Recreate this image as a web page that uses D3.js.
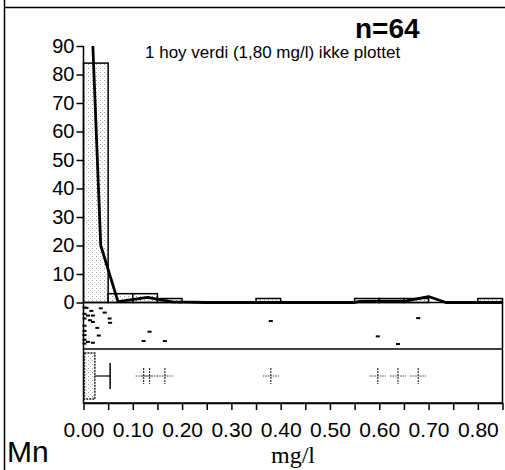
<!DOCTYPE html>
<html lang="no">
<head>
    <meta charset="UTF-8">
    <title>Mn fordeling</title>
    <script type="text/javascript" src="https://cdn.jsdelivr.net/npm/d3@7"></script>
</head>
<style>
    body{ margin:0; background:#fff; }
    .axis path,.axis line{
        fill:none;
        stroke:black;
        stroke-width:1.5px;
    }
    .axis text{
        font-family:"Liberation Sans", Arial, sans-serif;
        fill:black;
    }
</style>
<body>
<script>
    var width = 505;
    var height = 470;

    // histogram, percent per 0.05 mg/l bin
    var binStarts = [0.00, 0.05, 0.10, 0.15, 0.20, 0.25, 0.30, 0.35, 0.40, 0.45, 0.50, 0.55, 0.60, 0.65, 0.70, 0.75, 0.80];
    var binPercent = [84, 3.1, 3.1, 1.4, 0, 0, 0, 1.4, 0, 0, 0, 1.4, 1.4, 1.4, 0, 0, 1.4];

    // frequency line (mg/l, percent)
    var lineX = [0.019, 0.035, 0.07, 0.13, 0.18, 0.25, 0.55, 0.56, 0.655, 0.70, 0.735, 0.85];
    var lineY = [90, 20, 0.3, 1.8, 0.2, 0, 0, 0.4, 0.6, 2.1, 0, 0];

    // single values (mg/l) and their vertical spread inside the strip (0..1)
    var stripValues = [0.006, 0.035, 0.016, 0.043, 0.009, 0.019, 0.053, 0.013, 0.019, 0.054, 0.028, 0.002,
                       0.134, 0.031, 0.009, 0.019, 0.122, 0.165, 0.380, 0.597, 0.638, 0.679,
                       0.002, 0.002, 0.002, 0.002, 0.002, 0.002, 0.002];
    var stripJitter = [0.08, 0.09, 0.15, 0.19, 0.26, 0.26, 0.33, 0.37, 0.41, 0.43, 0.55, 0.62,
                       0.64, 0.73, 0.88, 0.90, 0.86, 0.86, 0.39, 0.75, 0.93, 0.32,
                       0.07, 0.22, 0.33, 0.50, 0.72, 0.83, 0.92];

    // box plot
    var boxStats = [0.002, 0.002, 0.006, 0.023, 0.054];   // min, q1, median, q3, upper whisker
    var outliers = [0.122, 0.134, 0.165, 0.380, 0.597, 0.638, 0.679];

    var yTicks = [0, 10, 20, 30, 40, 50, 60, 70, 80, 90];
    var xTicks = [0.00, 0.05, 0.10, 0.15, 0.20, 0.25, 0.30, 0.35, 0.40, 0.45, 0.50, 0.55, 0.60, 0.65, 0.70, 0.75, 0.80, 0.85];

    var svg = d3.select("body")
            .append("svg")
            .attr("width",width)
            .attr("height",height);

    // stipple fill
    var defs = svg.append("defs");
    var pat = defs.append("pattern")
            .attr("id","stipple")
            .attr("width",4)
            .attr("height",4)
            .attr("patternUnits","userSpaceOnUse");
    pat.append("rect").attr("width",4).attr("height",4).attr("fill","#fff");
    pat.append("rect").attr("width",1).attr("height",1).attr("fill","#9a9a9a");
    pat.append("rect").attr("x",2).attr("y",2).attr("width",1).attr("height",1).attr("fill","#c4c4c4");

    var left = 83.5, right = 502.5;
    var histTop = 46, histBottom = 302.5;
    var stripBottom = 349, boxBottom = 403;

    var xScale = d3.scaleLinear()
            .domain([0, 0.85])
            .range([left, right]);

    var yScale = d3.scaleLinear()
            .domain([0, 90])
            .range([histBottom, histTop]);

    // outer frame
    svg.append("line")
            .attr("x1",4.5).attr("x2",4.5).attr("y1",0).attr("y2",height)
            .attr("stroke","black").attr("stroke-width",1.5);
    svg.append("line")
            .attr("x1",4.5).attr("x2",width).attr("y1",7.5).attr("y2",7.5)
            .attr("stroke","black").attr("stroke-width",1.5);

    // histogram bars
    svg.selectAll(".bar")
            .data(binStarts)
            .enter()
            .append("rect")
            .attr("class","bar")
            .filter(function(d,i){ return binPercent[i] > 0; })
            .attr("x",function(d){ return xScale(d); })
            .attr("width",function(d){ return xScale(d + 0.05) - xScale(d); })
            .attr("y",function(d){ return yScale(binPercent[binStarts.indexOf(d)]); })
            .attr("height",function(d){ return histBottom - yScale(binPercent[binStarts.indexOf(d)]); })
            .attr("fill","url(#stipple)")
            .attr("stroke","black")
            .attr("stroke-width",1.5);

    // frequency line
    var line = d3.line()
            .x(function(d){ return xScale(d[0]); })
            .y(function(d){ return yScale(d[1]); });
    svg.append("path")
            .datum(lineX.map(function(d,i){ return [d, lineY[i]]; }))
            .attr("d",line)
            .attr("fill","none")
            .attr("stroke","black")
            .attr("stroke-width",2.8)
            .attr("stroke-linejoin","round");

    // strip and box panels
    svg.append("rect")
            .attr("x",left).attr("y",histBottom)
            .attr("width",right - left).attr("height",boxBottom - histBottom)
            .attr("fill","none").attr("stroke","black").attr("stroke-width",1.5);
    svg.append("line")
            .attr("x1",left).attr("x2",right).attr("y1",stripBottom).attr("y2",stripBottom)
            .attr("stroke","black").attr("stroke-width",1.5);

    // single values
    svg.selectAll(".dot")
            .data(stripValues)
            .enter()
            .append("rect")
            .attr("class","dot")
            .attr("x",function(d){ return xScale(d) - 2; })
            .attr("y",function(d,i){ return histBottom + 2 + stripJitter[i] * (stripBottom - histBottom - 4) - 1; })
            .attr("width",4)
            .attr("height",2)
            .attr("fill","black");

    // box plot
    var boxMid = (stripBottom + boxBottom) / 2;
    svg.append("rect")
            .attr("x",xScale(boxStats[1]))
            .attr("y",boxMid - 23)
            .attr("width",xScale(boxStats[3]) - xScale(boxStats[1]))
            .attr("height",46)
            .attr("fill","url(#stipple)")
            .attr("stroke","#222")
            .attr("stroke-width",1.5)
            .attr("stroke-dasharray","2,1");
    svg.append("line")
            .attr("x1",xScale(boxStats[3])).attr("x2",xScale(boxStats[4]))
            .attr("y1",boxMid).attr("y2",boxMid)
            .attr("stroke","#333").attr("stroke-width",1.5);
    svg.append("line")
            .attr("x1",xScale(boxStats[4])).attr("x2",xScale(boxStats[4]))
            .attr("y1",boxMid - 13).attr("y2",boxMid + 13)
            .attr("stroke","black").attr("stroke-width",1.5);

    var crosses = svg.selectAll(".cross")
            .data(outliers)
            .enter()
            .append("g")
            .attr("class","cross")
            .attr("transform",function(d){ return "translate(" + xScale(d) + "," + boxMid + ")"; });
    crosses.append("line")
            .attr("x1",-8).attr("x2",8).attr("y1",0).attr("y2",0)
            .attr("stroke","#444").attr("stroke-width",1).attr("stroke-dasharray","1.5,1");
    crosses.append("line")
            .attr("x1",0).attr("x2",0).attr("y1",-8).attr("y2",8)
            .attr("stroke","#333").attr("stroke-width",1.2).attr("stroke-dasharray","2,1");

    // axes
    var yAxis = d3.axisLeft(yScale)
            .tickValues(yTicks)
            .tickSize(7)
            .tickPadding(2)
            .tickSizeOuter(0);
    var gy = svg.append("g")
            .attr("class","axis")
            .attr("transform","translate(" + left + ",0)")
            .call(yAxis);
    gy.selectAll("text").style("font-size","20px");
    gy.select(".domain").attr("d","M0," + histTop + "V" + histBottom);

    var xAxis = d3.axisBottom(xScale)
            .tickValues(xTicks)
            .tickSize(7)
            .tickPadding(12)
            .tickSizeOuter(0)
            .tickFormat(function(d,i){ return i % 2 === 0 && d < 0.84 ? d3.format(".2f")(d) : ""; });
    var gx = svg.append("g")
            .attr("class","axis")
            .attr("transform","translate(0," + boxBottom + ")")
            .call(xAxis);
    gx.selectAll("text").style("font-size","21px");

    // texts
    svg.append("text")
            .attr("x",355).attr("y",38)
            .style("font-family","Liberation Sans, Arial, sans-serif")
            .style("font-weight","bold")
            .style("font-size","28px")
            .text("n=64");
    svg.append("text")
            .attr("x",145).attr("y",58)
            .style("font-family","Liberation Sans, Arial, sans-serif")
            .style("font-size","17px")
            .text("1 hoy verdi (1,80 mg/l) ikke plottet");
    svg.append("text")
            .attr("x",7).attr("y",462)
            .style("font-family","Liberation Sans, Arial, sans-serif")
            .style("font-size","30px")
            .text("Mn");
    svg.append("text")
            .attr("x",293).attr("y",463)
            .attr("text-anchor","middle")
            .style("font-family","Liberation Serif, Times New Roman, serif")
            .style("font-size","24px")
            .text("mg/l");
</script>
</body>
</html>
